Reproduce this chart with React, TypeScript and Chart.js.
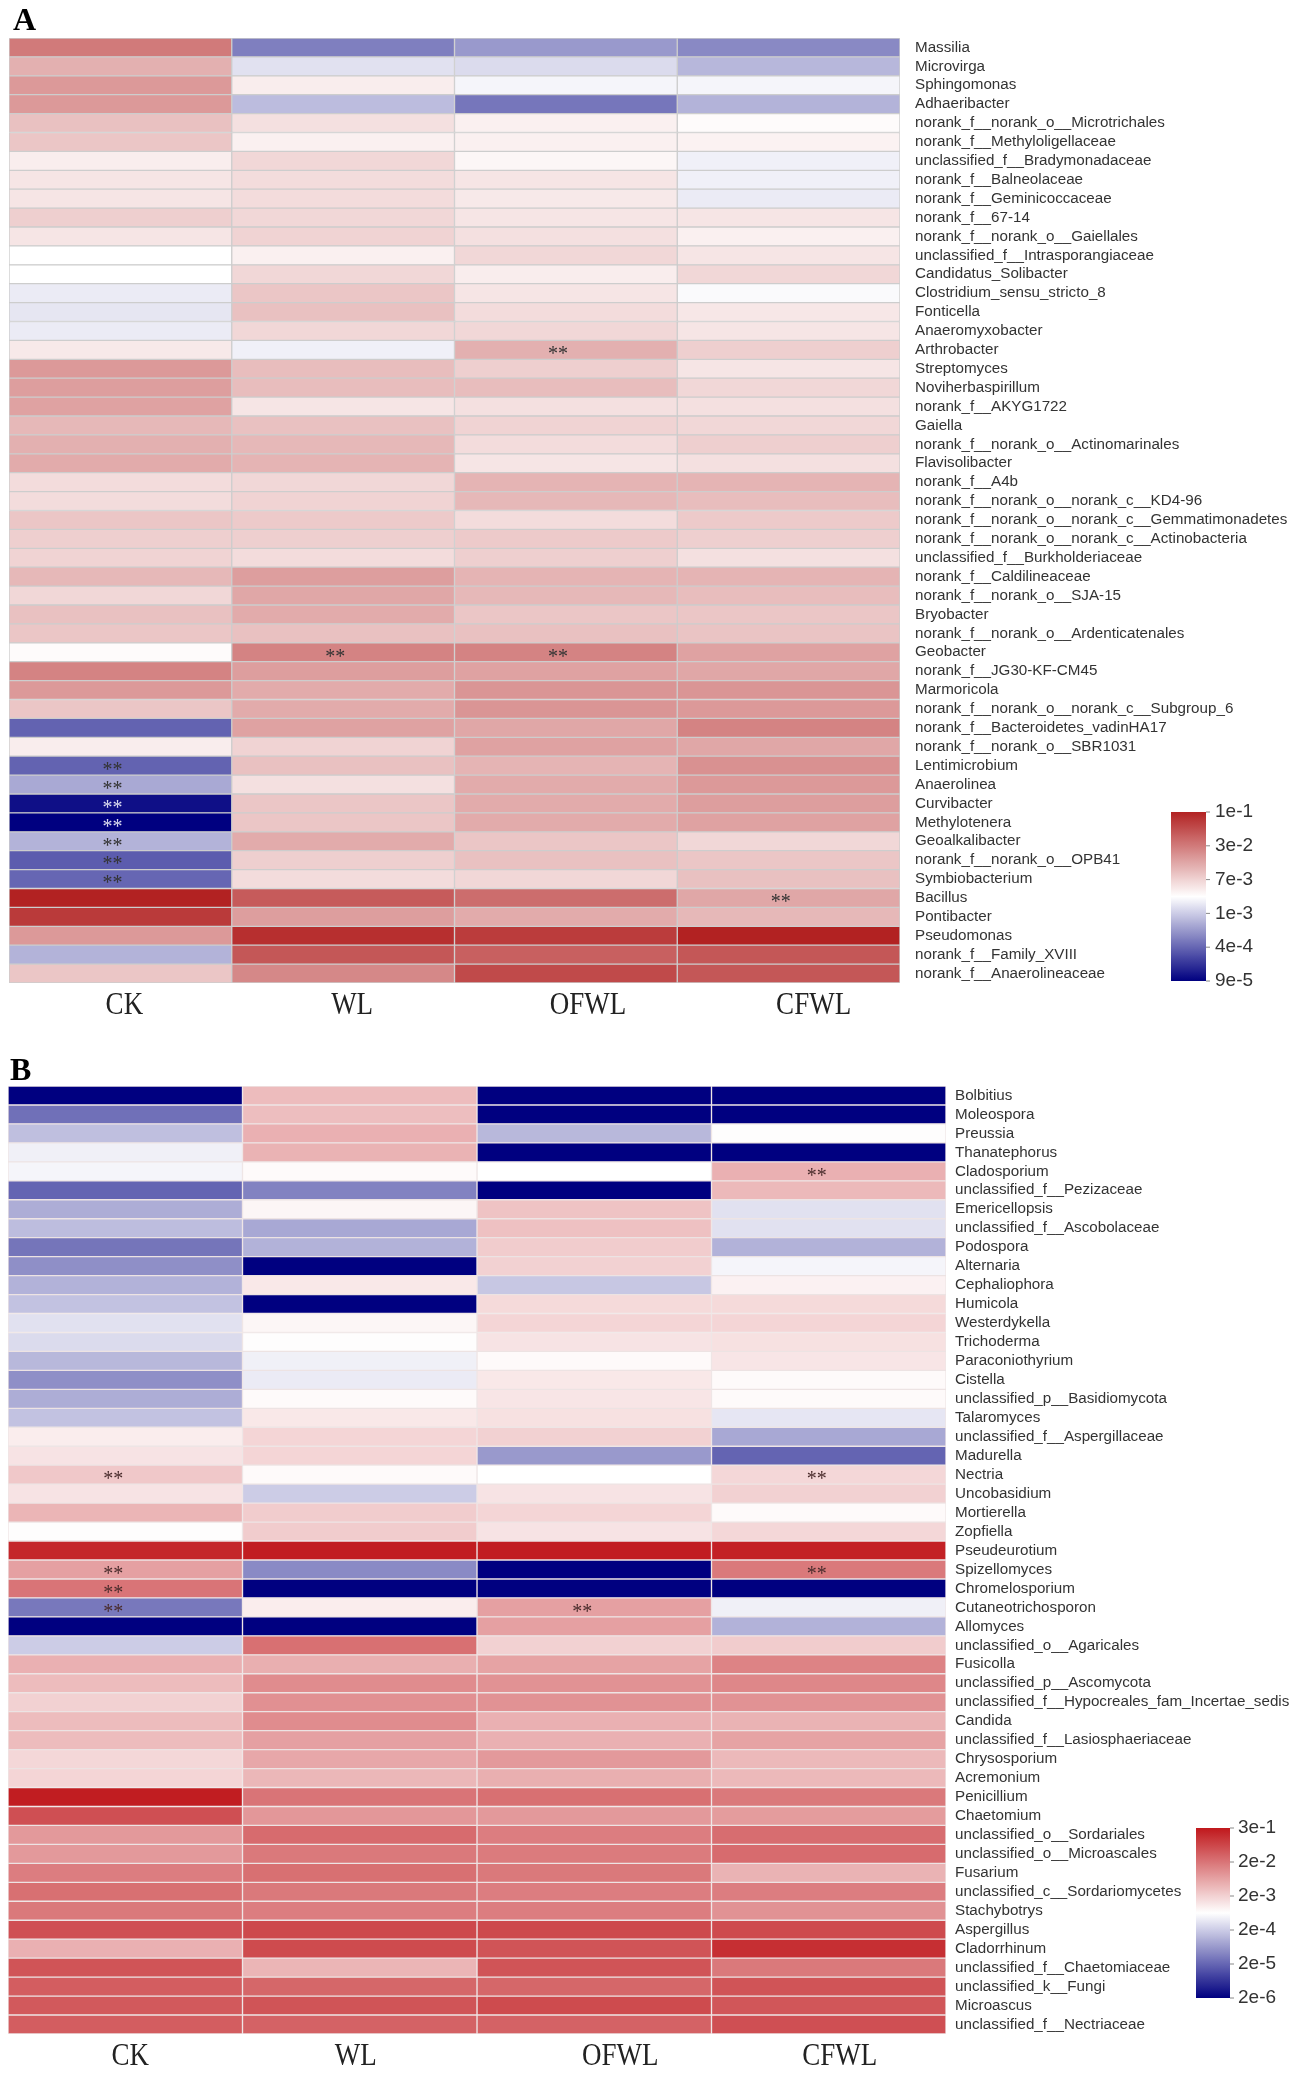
import React, { useEffect, useRef } from "react";
import { Chart, registerables } from "chart.js";

Chart.register(...registerables);

// ---------------- data ----------------
const groups = ["CK", "WL", "OFWL", "CFWL"];

const bacteriaTaxa = [
  "Massilia", "Microvirga", "Sphingomonas", "Adhaeribacter",
  "norank_f__norank_o__Microtrichales", "norank_f__Methyloligellaceae",
  "unclassified_f__Bradymonadaceae", "norank_f__Balneolaceae", "norank_f__Geminicoccaceae",
  "norank_f__67-14", "norank_f__norank_o__Gaiellales", "unclassified_f__Intrasporangiaceae",
  "Candidatus_Solibacter", "Clostridium_sensu_stricto_8", "Fonticella", "Anaeromyxobacter",
  "Arthrobacter", "Streptomyces", "Noviherbaspirillum", "norank_f__AKYG1722", "Gaiella",
  "norank_f__norank_o__Actinomarinales", "Flavisolibacter", "norank_f__A4b",
  "norank_f__norank_o__norank_c__KD4-96", "norank_f__norank_o__norank_c__Gemmatimonadetes",
  "norank_f__norank_o__norank_c__Actinobacteria", "unclassified_f__Burkholderiaceae",
  "norank_f__Caldilineaceae", "norank_f__norank_o__SJA-15", "Bryobacter",
  "norank_f__norank_o__Ardenticatenales", "Geobacter", "norank_f__JG30-KF-CM45", "Marmoricola",
  "norank_f__norank_o__norank_c__Subgroup_6", "norank_f__Bacteroidetes_vadinHA17",
  "norank_f__norank_o__SBR1031", "Lentimicrobium", "Anaerolinea", "Curvibacter", "Methylotenera",
  "Geoalkalibacter", "norank_f__norank_o__OPB41", "Symbiobacterium", "Bacillus", "Pontibacter",
  "Pseudomonas", "norank_f__Family_XVIII", "norank_f__Anaerolineaceae",
];
const bacteriaCK = [
  3e-2, 1.25e-2, 1.8e-2, 1.8e-2, 9.4e-3, 8.7e-3, 3.9e-3, 4.7e-3, 4.7e-3, 7.5e-3,
  4.7e-3, 2.65e-3, 2.65e-3, 1.8e-3, 1.63e-3, 1.8e-3, 4.3e-3, 1.8e-2, 1.68e-2, 1.56e-2,
  1.08e-2, 1.25e-2, 1.35e-2, 5.75e-3, 5.75e-3, 8.7e-3, 7.5e-3, 7e-3, 1.08e-2, 6.35e-3,
  9.4e-3, 8.7e-3, 2.9e-3, 2.6e-2, 1.8e-2, 8.7e-3, 3.85e-4, 3.9e-3, 3.85e-4, 7.3e-4,
  1.12e-4, 9e-5, 8e-4, 3.44e-4, 4e-4, 1e-1, 7.2e-2, 1.8e-2, 8e-4, 8.7e-3,
];
const bacteriaWL = [
  5e-4, 1.48e-3, 3.9e-3, 8.7e-4, 5.2e-3, 3.7e-3, 6.35e-3, 5.75e-3, 5.75e-3, 6.35e-3,
  7e-3, 3.7e-3, 6.35e-3, 8.7e-3, 9.4e-3, 6.35e-3, 2e-3, 1e-2, 1e-2, 4.7e-3,
  9.4e-3, 1.08e-2, 1.16e-2, 6.35e-3, 7e-3, 8.1e-3, 7.5e-3, 5.75e-3, 1.68e-2, 1.45e-2,
  1.35e-2, 9.4e-3, 2.6e-2, 1.68e-2, 1.35e-2, 1.35e-2, 1.56e-2, 7e-3, 9.4e-3, 5.2e-3,
  8.7e-3, 8.7e-3, 1.35e-2, 7.5e-3, 5.75e-3, 4.57e-2, 1.68e-2, 8.35e-2, 4.86e-2, 2.41e-2,
];
const bacteriaOFWL = [
  6.3e-4, 1.34e-3, 2.18e-3, 4.6e-4, 3.7e-3, 3.7e-3, 3.2e-3, 4.7e-3, 4.3e-3, 4.7e-3,
  5.2e-3, 6.35e-3, 3.9e-3, 4.7e-3, 5.75e-3, 6.35e-3, 1.25e-2, 7.5e-3, 1e-2, 5.2e-3,
  7e-3, 5.75e-3, 4.7e-3, 1.16e-2, 1.08e-2, 5.75e-3, 8.1e-3, 7.5e-3, 1.16e-2, 1.08e-2,
  8.7e-3, 9.4e-3, 2.6e-2, 1.56e-2, 1.94e-2, 1.94e-2, 1.45e-2, 1.56e-2, 1.16e-2, 1.35e-2,
  1.35e-2, 1.35e-2, 8.7e-3, 9.4e-3, 6.35e-3, 3.6e-2, 1.35e-2, 7e-2, 4.3e-2, 5.8e-2,
];
const bacteriaCFWL = [
  5.5e-4, 8.3e-4, 2.18e-3, 8e-4, 2.9e-3, 3.5e-3, 2e-3, 2e-3, 1.8e-3, 4.7e-3,
  3.7e-3, 4.7e-3, 6.35e-3, 2.4e-3, 4.5e-3, 4.7e-3, 7.5e-3, 4.7e-3, 6.35e-3, 5.2e-3,
  6.35e-3, 7.5e-3, 5.2e-3, 1.16e-2, 1e-2, 8.1e-3, 7.5e-3, 5.2e-3, 1.16e-2, 1e-2,
  8.7e-3, 9e-3, 1.56e-2, 1.45e-2, 1.94e-2, 1.8e-2, 2.6e-2, 1.45e-2, 2.08e-2, 1.8e-2,
  1.68e-2, 1.56e-2, 6.35e-3, 8.7e-3, 9.4e-3, 1.45e-2, 1.08e-2, 1e-1, 4.86e-2, 4.86e-2,
];
const bacteriaSignificant = [
  ["Arthrobacter", "OFWL"], ["Geobacter", "WL"], ["Geobacter", "OFWL"],
  ["Lentimicrobium", "CK"], ["Anaerolinea", "CK"], ["Curvibacter", "CK"],
  ["Methylotenera", "CK"], ["Geoalkalibacter", "CK"], ["norank_f__norank_o__OPB41", "CK"],
  ["Symbiobacterium", "CK"], ["Bacillus", "CFWL"],
];
const bacteriaLegendTicks = [1e-1, 3e-2, 7e-3, 1e-3, 4e-4, 9e-5];
const bacteriaLegendLabels = ["1e-1", "3e-2", "7e-3", "1e-3", "4e-4", "9e-5"];

const fungiTaxa = [
  "Bolbitius", "Moleospora", "Preussia", "Thanatephorus", "Cladosporium",
  "unclassified_f__Pezizaceae", "Emericellopsis", "unclassified_f__Ascobolaceae", "Podospora",
  "Alternaria", "Cephaliophora", "Humicola", "Westerdykella", "Trichoderma", "Paraconiothyrium",
  "Cistella", "unclassified_p__Basidiomycota", "Talaromyces", "unclassified_f__Aspergillaceae",
  "Madurella", "Nectria", "Uncobasidium", "Mortierella", "Zopfiella", "Pseudeurotium",
  "Spizellomyces", "Chromelosporium", "Cutaneotrichosporon", "Allomyces",
  "unclassified_o__Agaricales", "Fusicolla", "unclassified_p__Ascomycota",
  "unclassified_f__Hypocreales_fam_Incertae_sedis", "Candida", "unclassified_f__Lasiosphaeriaceae",
  "Chrysosporium", "Acremonium", "Penicillium", "Chaetomium", "unclassified_o__Sordariales",
  "unclassified_o__Microascales", "Fusarium", "unclassified_c__Sordariomycetes", "Stachybotrys",
  "Aspergillus", "Cladorrhinum", "unclassified_f__Chaetomiaceae", "unclassified_k__Fungi",
  "Microascus", "unclassified_f__Nectriaceae",
];
const fungiCK = [
  2e-6, 2.5e-5, 1.5e-4, 4.5e-4, 5e-4, 1.9e-5, 1e-4, 1.42e-4, 2.8e-5, 5e-5,
  1.12e-4, 1.6e-4, 3.2e-4, 2.8e-4, 1.26e-4, 5e-5, 1e-4, 1.6e-4, 1e-3, 1.26e-3,
  2.5e-3, 1.26e-3, 4e-3, 6.7e-4, 0.2, 6.7e-3, 2e-2, 3e-5, 2e-6, 2e-4,
  4.5e-3, 3.4e-3, 2e-3, 3.4e-3, 3.4e-3, 1.7e-3, 1.8e-3, 0.262, 5.9e-2, 8e-3,
  8e-3, 1.6e-2, 2.29e-2, 1.8e-2, 5.9e-2, 4.5e-3, 5.16e-2, 3.94e-2, 4.5e-2, 3.94e-2,
];
const fungiWL = [
  3.4e-3, 3.2e-3, 4.5e-3, 4.2e-3, 7.1e-4, 3.8e-5, 8e-4, 8.9e-5, 1.12e-4, 2e-6,
  1.12e-3, 2e-6, 8e-4, 6.7e-4, 4.5e-4, 4e-4, 7.1e-4, 1.12e-3, 1.8e-3, 1.8e-3,
  7.1e-4, 2e-4, 2.24e-3, 2.24e-3, 0.262, 4.5e-5, 2e-6, 1e-3, 2e-6, 2.29e-2,
  4.7e-3, 1.12e-2, 1e-2, 1.12e-2, 6.7e-3, 5.6e-3, 3.8e-3, 2e-2, 8.4e-3, 2.62e-2,
  1.8e-2, 2.29e-2, 1.8e-2, 1.6e-2, 7.24e-2, 6.76e-2, 4e-3, 3e-2, 5.16e-2, 3.44e-2,
];
const fungiOFWL = [
  2e-6, 2e-6, 1.26e-4, 2e-6, 6.3e-4, 2e-6, 2.8e-3, 3e-3, 2.24e-3, 2e-3,
  1.8e-4, 1.6e-3, 1.8e-3, 1.26e-3, 7.1e-4, 1.12e-3, 1.2e-3, 1.34e-3, 2e-3, 6.3e-5,
  6.3e-4, 1.26e-3, 1.8e-3, 1.26e-3, 0.262, 2e-6, 2e-6, 6.7e-3, 6.7e-3, 2e-3,
  6.3e-3, 9.5e-3, 9.5e-3, 4.5e-3, 4.5e-3, 8e-3, 4.7e-3, 2.29e-2, 8e-3, 1.6e-2,
  1.7e-2, 1.8e-2, 1.6e-2, 1.6e-2, 7.24e-2, 5.16e-2, 5.16e-2, 3e-2, 6.76e-2, 3.44e-2,
];
const fungiCFWL = [
  2e-6, 2e-6, 6.7e-4, 2e-6, 4.5e-3, 3.6e-3, 3.2e-4, 3.2e-4, 1.12e-4, 5e-4,
  8.9e-4, 1.6e-3, 1.8e-3, 1.34e-3, 1.2e-3, 7.1e-4, 7.1e-4, 3.6e-4, 8.9e-5, 1.9e-5,
  1.7e-3, 2e-3, 7.1e-4, 1.7e-3, 0.229, 1.8e-2, 2e-6, 4.5e-4, 1.12e-4, 2.24e-3,
  1.4e-2, 1.26e-2, 9.5e-3, 4.2e-3, 6.3e-3, 3.6e-3, 3.6e-3, 1.8e-2, 7.5e-3, 2.45e-2,
  2.62e-2, 4.2e-3, 1.6e-2, 9.5e-3, 6.76e-2, 0.152, 1.8e-2, 5.16e-2, 4.82e-2, 5.9e-2,
];
const fungiSignificant = [
  ["Cladosporium", "CFWL"], ["Nectria", "CK"], ["Nectria", "CFWL"],
  ["Spizellomyces", "CK"], ["Spizellomyces", "CFWL"], ["Chromelosporium", "CK"],
  ["Cutaneotrichosporon", "CK"], ["Cutaneotrichosporon", "OFWL"],
];
const fungiLegendTicks = [3e-1, 2e-2, 2e-3, 2e-4, 2e-5, 2e-6];
const fungiLegendLabels = ["3e-1", "2e-2", "2e-3", "2e-4", "2e-5", "2e-6"];

// ---------------- colour helpers ----------------
type RGB = [number, number, number];

function legendPosition(v: number, ticks: number[]): number {
  const asc = [...ticks].reverse().map((t) => Math.log10(t));
  const n = asc.length - 1;
  const lv = Math.log10(v);
  if (lv <= asc[0]) return 0;
  if (lv >= asc[n]) return 1;
  for (let i = 0; i < n; i++) {
    if (lv <= asc[i + 1]) return (i + (lv - asc[i]) / (asc[i + 1] - asc[i])) / n;
  }
  return 1;
}

function mix(a: RGB, b: RGB, t: number): RGB {
  return [a[0] + (b[0] - a[0]) * t, a[1] + (b[1] - a[1]) * t, a[2] + (b[2] - a[2]) * t];
}

function positionColor(p: number, low: RGB, high: RGB): string {
  const white: RGB = [255, 255, 255];
  const c = p < 0.5 ? mix(white, low, (0.5 - p) / 0.5) : mix(white, high, (p - 0.5) / 0.5);
  return `rgb(${Math.round(c[0])},${Math.round(c[1])},${Math.round(c[2])})`;
}

// ---------------- panels (layout / style) ----------------
const bacteriaPanel = {
  letter: "A",
  taxa: bacteriaTaxa,
  values: [bacteriaCK, bacteriaWL, bacteriaOFWL, bacteriaCFWL],
  significant: bacteriaSignificant,
  legendTicks: bacteriaLegendTicks,
  legendLabels: bacteriaLegendLabels,
  low: [0, 0, 128] as RGB,
  high: [178, 34, 34] as RGB,
  canvasTop: 0,
  canvasHeight: 1040,
  padLeft: 9,
  padTop: 38,
  yAxisWidth: 398,
  xAxisHeight: 57,
  yLabelPad: 15,
  groupLabelShift: [4, 9, 22, 25],
  groupLabelDy: 23,
  cellBorder: "#cdcdcd",
  starColor: "#333333",
  starShift: -8,
  letterX: 13,
  letterY: 30,
  legendBox: { x: 1171, y: 812, w: 35, h: 169 },
  legendGap: 9,
};

const fungiPanel = {
  letter: "B",
  taxa: fungiTaxa,
  values: [fungiCK, fungiWL, fungiOFWL, fungiCFWL],
  significant: fungiSignificant,
  legendTicks: fungiLegendTicks,
  legendLabels: fungiLegendLabels,
  low: [0, 0, 128] as RGB,
  high: [192, 24, 28] as RGB,
  canvasTop: 1040,
  canvasHeight: 1036,
  padLeft: 8,
  padTop: 46,
  yAxisWidth: 352,
  xAxisHeight: 42,
  yLabelPad: 9,
  groupLabelShift: [5, -4, 26, 11],
  groupLabelDy: 23,
  cellBorder: "rgba(236,226,226,0.9)",
  starColor: "#4a2c2c",
  starShift: -12,
  letterX: 10,
  letterY: 40,
  legendBox: { x: 1196, y: 788, w: 34, h: 170 },
  legendGap: 8,
};

type Panel = typeof bacteriaPanel;

function HeatmapPanel({ panel }: { panel: Panel }) {
  const ref = useRef<HTMLCanvasElement>(null);

  useEffect(() => {
    const canvas = ref.current;
    if (!canvas) return;
    const posOf = (v: number) => legendPosition(v, panel.legendTicks);
    const colorOf = (v: number) => positionColor(posOf(v), panel.low, panel.high);

    const overlay = {
      id: "overlay" + panel.letter,
      afterDraw(chart: any) {
        const ctx = chart.ctx as CanvasRenderingContext2D;
        const xs = chart.scales.x;
        const ys = chart.scales.y;
        ctx.save();
        // panel letter
        ctx.fillStyle = "#000";
        ctx.font = "bold 32px 'Liberation Serif', serif";
        ctx.textAlign = "left";
        ctx.textBaseline = "alphabetic";
        ctx.fillText(panel.letter, panel.letterX, panel.letterY);

        // group labels under columns (slightly tall serif)
        ctx.fillStyle = "#222";
        ctx.font = "27px 'Liberation Serif', serif";
        ctx.textAlign = "center";
        ctx.textBaseline = "middle";
        groups.forEach((g, i) => {
          const x = xs.getPixelForValue(i + 0.5) + panel.groupLabelShift[i];
          const y = chart.chartArea.bottom + panel.groupLabelDy;
          ctx.save();
          ctx.translate(x, y);
          ctx.scale(1, 1.18);
          ctx.fillText(g, 0, 0);
          ctx.restore();
        });

        // significance marks
        ctx.font = "20px 'Liberation Serif', serif";
        ctx.textAlign = "center";
        ctx.textBaseline = "middle";
        panel.significant.forEach(([taxon, group]) => {
          const r = panel.taxa.indexOf(taxon);
          const g = groups.indexOf(group);
          if (r < 0 || g < 0) return;
          const p = posOf(panel.values[g][r]);
          ctx.fillStyle = p < 0.12 ? "#dcdcf0" : panel.starColor;
          ctx.fillText("**", xs.getPixelForValue(g + 0.5) + panel.starShift, ys.getPixelForValue(r) + 5);
        });

        // colour legend
        const L = panel.legendBox;
        const grad = ctx.createLinearGradient(0, L.y + L.h, 0, L.y);
        for (let i = 0; i <= 50; i++) {
          const p = i / 50;
          grad.addColorStop(p, positionColor(p, panel.low, panel.high));
        }
        ctx.fillStyle = grad;
        ctx.fillRect(L.x, L.y, L.w, L.h);
        ctx.strokeStyle = "#888";
        ctx.lineWidth = 1;
        ctx.font = "19px 'Liberation Sans', Arial, sans-serif";
        ctx.fillStyle = "#333";
        ctx.textAlign = "left";
        ctx.textBaseline = "middle";
        panel.legendTicks.forEach((t, i) => {
          const y = L.y + L.h * (1 - posOf(t));
          ctx.beginPath();
          ctx.moveTo(L.x + L.w, y);
          ctx.lineTo(L.x + L.w + 4, y);
          ctx.stroke();
          ctx.fillText(panel.legendLabels[i], L.x + L.w + panel.legendGap, y);
        });
        ctx.restore();
      },
    };

    const datasets = groups.map((g, gi) => ({
      label: g,
      data: panel.taxa.map(() => [gi, gi + 1]),
      backgroundColor: panel.values[gi].map(colorOf),
      borderColor: panel.cellBorder,
      borderWidth: 1,
      borderSkipped: false,
      grouped: false,
      barPercentage: 1,
      categoryPercentage: 1,
    }));

    const chart = new Chart(canvas, {
      type: "bar",
      data: { labels: panel.taxa, datasets: datasets as any },
      plugins: [overlay],
      options: {
        indexAxis: "y",
        animation: false,
        responsive: false,
        maintainAspectRatio: false,
        layout: { padding: { left: panel.padLeft, top: panel.padTop, right: 0, bottom: 0 } },
        plugins: { legend: { display: false }, tooltip: { enabled: false } },
        scales: {
          x: {
            type: "linear",
            min: 0,
            max: groups.length,
            position: "bottom",
            grid: { display: false, drawTicks: false },
            border: { display: false },
            afterFit: (s: any) => {
              s.height = panel.xAxisHeight;
            },
            ticks: { display: false },
          },
          y: {
            type: "category",
            position: "right",
            grid: { display: false, drawTicks: false },
            border: { display: false },
            afterFit: (s: any) => {
              s.width = panel.yAxisWidth;
            },
            ticks: {
              autoSkip: false,
              padding: panel.yLabelPad,
              color: "#333",
              font: { family: "'Liberation Sans', Arial, sans-serif", size: 15.2 },
            },
          },
        },
      } as any,
    });
    return () => chart.destroy();
  }, [panel]);

  return (
    <canvas
      ref={ref}
      width={1298}
      height={panel.canvasHeight}
      style={{ position: "absolute", left: 0, top: panel.canvasTop, width: 1298, height: panel.canvasHeight }}
    />
  );
}

export default function App() {
  return (
    <div style={{ position: "absolute", left: 0, top: 0, width: 1298, height: 2076, background: "#fff", overflow: "hidden" }}>
      <HeatmapPanel panel={bacteriaPanel} />
      <HeatmapPanel panel={fungiPanel} />
    </div>
  );
}
